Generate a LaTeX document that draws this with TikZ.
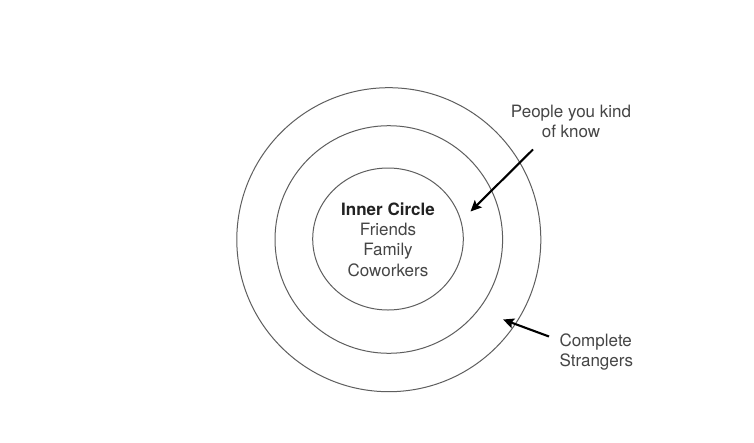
\documentclass[tikz,border=0pt]{standalone}
\usepackage{fontspec}
\setmainfont{TeX Gyre Heros}
\usetikzlibrary{arrows.meta,shapes.geometric}
\definecolor{ringgray}{HTML}{5E5E5E}
\definecolor{txtgray}{HTML}{454545}
\definecolor{boldgray}{HTML}{222222}
\tikzset{
  ring/.style={draw=ringgray, line width=1pt, inner sep=0pt, fill=none},
  lbl/.style={text=txtgray, font=\fontsize{17}{20.3}\selectfont, inner sep=0pt},
  pointer/.style={draw=black, line width=2.1pt, -{Stealth[length=11pt,width=10pt,inset=2pt]}}
}
\begin{document}
\begin{tikzpicture}[x=1pt,y=-1pt]
\useasboundingbox[fill=white] (0,0) rectangle (754,442);
\node[ring, circle, minimum size=304pt] (outer) at (388.8,239.7) {};
\node[ring, circle, minimum size=227.6pt] (middle) at (388.8,239.5) {};
\node[ring, ellipse, minimum width=150.6pt, minimum height=142pt] (inner) at (388,239) {};
\node[lbl, align=center] (core) at (388,239.6)
  {{\color{boldgray}\bfseries Inner Circle}\\Friends\\Family\\Coworkers};
\node[lbl, align=center] (kind) at (571,121.3) {People you kind\\of know};
\node[lbl, align=left] (strangers) at (596.3,352.2) {Complete\\Strangers};
\coordinate (kindfrom) at (533,149.5);
\coordinate (kindto) at (470.5,211.5);
\coordinate (strfrom) at (549,336.5);
\coordinate (strto) at (503,319.5);
\draw[pointer] (kindfrom) -- (kindto);
\draw[pointer] (strfrom) -- (strto);
\end{tikzpicture}
\end{document}
